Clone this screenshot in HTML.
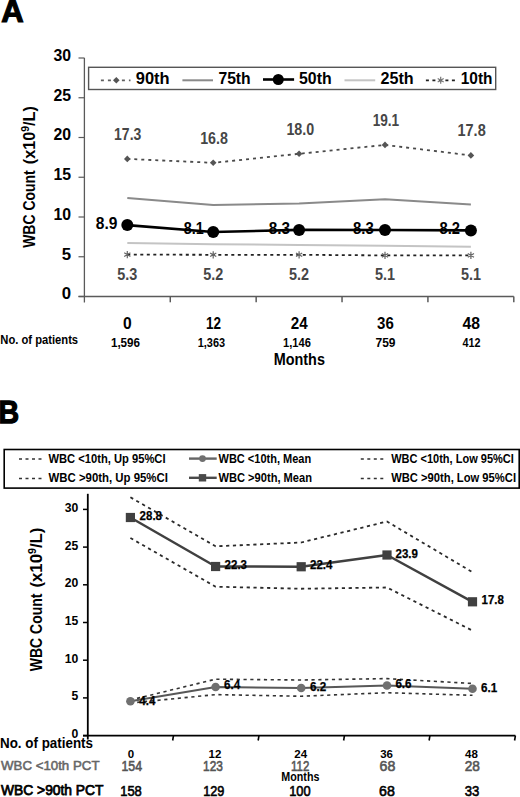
<!DOCTYPE html>
<html><head><meta charset="utf-8"><style>
html,body{margin:0;padding:0;background:#fff;}
svg{display:block;}
text{font-family:"Liberation Sans", sans-serif;}
</style></head><body>
<svg width="520" height="797" viewBox="0 0 520 797">
<rect width="520" height="797" fill="#fff"/>
<text x="1.3" y="21.9" font-size="32" font-weight="bold" fill="#000" textLength="22.4" lengthAdjust="spacingAndGlyphs" stroke="#000" stroke-width="1.2">A</text>
<line x1="84.4" y1="57.9" x2="84.4" y2="302.5" stroke="#5a5a5a" stroke-width="1.3"/>
<line x1="78.5" y1="296.5" x2="513.8" y2="296.5" stroke="#5a5a5a" stroke-width="1.5"/>
<line x1="78.5" y1="296.5" x2="84.4" y2="296.5" stroke="#5a5a5a" stroke-width="1.2"/>
<text x="71" y="299.4" font-size="16.8" font-weight="bold" fill="#000" text-anchor="end">0</text>
<line x1="78.5" y1="256.75" x2="84.4" y2="256.75" stroke="#5a5a5a" stroke-width="1.2"/>
<text x="71" y="259.65" font-size="16.8" font-weight="bold" fill="#000" text-anchor="end">5</text>
<line x1="78.5" y1="217.0" x2="84.4" y2="217.0" stroke="#5a5a5a" stroke-width="1.2"/>
<text x="71" y="219.9" font-size="16.8" font-weight="bold" fill="#000" text-anchor="end" textLength="17.6" lengthAdjust="spacingAndGlyphs">10</text>
<line x1="78.5" y1="177.25" x2="84.4" y2="177.25" stroke="#5a5a5a" stroke-width="1.2"/>
<text x="71" y="180.15" font-size="16.8" font-weight="bold" fill="#000" text-anchor="end" textLength="17.6" lengthAdjust="spacingAndGlyphs">15</text>
<line x1="78.5" y1="137.5" x2="84.4" y2="137.5" stroke="#5a5a5a" stroke-width="1.2"/>
<text x="71" y="140.4" font-size="16.8" font-weight="bold" fill="#000" text-anchor="end" textLength="17.6" lengthAdjust="spacingAndGlyphs">20</text>
<line x1="78.5" y1="97.75" x2="84.4" y2="97.75" stroke="#5a5a5a" stroke-width="1.2"/>
<text x="71" y="100.65" font-size="16.8" font-weight="bold" fill="#000" text-anchor="end" textLength="17.6" lengthAdjust="spacingAndGlyphs">25</text>
<line x1="78.5" y1="58.0" x2="84.4" y2="58.0" stroke="#5a5a5a" stroke-width="1.2"/>
<text x="71" y="60.9" font-size="16.8" font-weight="bold" fill="#000" text-anchor="end" textLength="17.6" lengthAdjust="spacingAndGlyphs">30</text>
<line x1="170.28" y1="296.5" x2="170.28" y2="302.3" stroke="#5a5a5a" stroke-width="1.5"/>
<line x1="256.15999999999997" y1="296.5" x2="256.15999999999997" y2="302.3" stroke="#5a5a5a" stroke-width="1.5"/>
<line x1="342.03999999999996" y1="296.5" x2="342.03999999999996" y2="302.3" stroke="#5a5a5a" stroke-width="1.5"/>
<line x1="427.91999999999996" y1="296.5" x2="427.91999999999996" y2="302.3" stroke="#5a5a5a" stroke-width="1.5"/>
<line x1="513.8" y1="296.5" x2="513.8" y2="302.3" stroke="#5a5a5a" stroke-width="1.5"/>
<polyline points="127.3,198 213.2,205.1 299.1,203.5 385,199.3 470.9,204.6" fill="none" stroke="#8a8a8a" stroke-width="2" stroke-linejoin="round"/>
<polyline points="127.3,243 213.2,244.2 299.1,245 385,245.8 470.9,246.7" fill="none" stroke="#c4c4c4" stroke-width="2" stroke-linejoin="round"/>
<polyline points="127.3,158.9 213.2,162.8 299.1,153.8 385,144.9 470.9,155.4" fill="none" stroke="#4a4a4a" stroke-width="1.8" stroke-linejoin="round" stroke-dasharray="3 4"/>
<polyline points="127.3,254.6 213.2,254.8 299.1,254.8 385,255.4 470.9,255.4" fill="none" stroke="#222" stroke-width="1.8" stroke-linejoin="round" stroke-dasharray="3 3.5"/>
<polyline points="127.3,225.1 213.2,232 299.1,229.9 385,230 470.9,230.4" fill="none" stroke="#000" stroke-width="2.6" stroke-linejoin="round"/>
<path d="M127.3,155.6 L130.6,158.9 L127.3,162.20000000000002 L124.0,158.9 Z" fill="#555"/>
<path d="M213.2,159.5 L216.5,162.8 L213.2,166.10000000000002 L209.89999999999998,162.8 Z" fill="#555"/>
<path d="M299.1,150.5 L302.40000000000003,153.8 L299.1,157.10000000000002 L295.8,153.8 Z" fill="#555"/>
<path d="M385,141.6 L388.3,144.9 L385,148.20000000000002 L381.7,144.9 Z" fill="#555"/>
<path d="M470.9,152.1 L474.2,155.4 L470.9,158.70000000000002 L467.59999999999997,155.4 Z" fill="#555"/>
<path d="M127.3,251.0 L127.3,258.2 M130.4,252.8 L124.2,256.4 M130.4,256.4 L124.2,252.8 " stroke="#666" stroke-width="1.2" fill="none"/>
<path d="M213.2,251.2 L213.2,258.4 M216.3,253.0 L210.1,256.6 M216.3,256.6 L210.1,253.0 " stroke="#666" stroke-width="1.2" fill="none"/>
<path d="M299.1,251.2 L299.1,258.4 M302.2,253.0 L296.0,256.6 M302.2,256.6 L296.0,253.0 " stroke="#666" stroke-width="1.2" fill="none"/>
<path d="M385.0,251.8 L385.0,259.0 M388.1,253.6 L381.9,257.2 M388.1,257.2 L381.9,253.6 " stroke="#666" stroke-width="1.2" fill="none"/>
<path d="M470.9,251.8 L470.9,259.0 M474.0,253.6 L467.8,257.2 M474.0,257.2 L467.8,253.6 " stroke="#666" stroke-width="1.2" fill="none"/>
<circle cx="127.3" cy="225.1" r="6" fill="#000"/>
<circle cx="213.2" cy="232" r="6" fill="#000"/>
<circle cx="299.1" cy="229.9" r="6" fill="#000"/>
<circle cx="385" cy="230" r="6" fill="#000"/>
<circle cx="470.9" cy="230.4" r="6" fill="#000"/>
<text x="127.7" y="140.2" font-size="16.5" font-weight="bold" fill="#464646" text-anchor="middle" textLength="27.2" lengthAdjust="spacingAndGlyphs">17.3</text>
<text x="214" y="144.2" font-size="16.5" font-weight="bold" fill="#464646" text-anchor="middle" textLength="27.7" lengthAdjust="spacingAndGlyphs">16.8</text>
<text x="300.3" y="134.6" font-size="16.5" font-weight="bold" fill="#464646" text-anchor="middle" textLength="27.8" lengthAdjust="spacingAndGlyphs">18.0</text>
<text x="385.9" y="126.2" font-size="16.5" font-weight="bold" fill="#464646" text-anchor="middle" textLength="26.5" lengthAdjust="spacingAndGlyphs">19.1</text>
<text x="471.6" y="135.6" font-size="16.5" font-weight="bold" fill="#464646" text-anchor="middle" textLength="28.2" lengthAdjust="spacingAndGlyphs">17.8</text>
<text x="127.3" y="280" font-size="16.5" font-weight="bold" fill="#464646" text-anchor="middle" textLength="20" lengthAdjust="spacingAndGlyphs">5.3</text>
<text x="213.2" y="280" font-size="16.5" font-weight="bold" fill="#464646" text-anchor="middle" textLength="20" lengthAdjust="spacingAndGlyphs">5.2</text>
<text x="299.1" y="280" font-size="16.5" font-weight="bold" fill="#464646" text-anchor="middle" textLength="20" lengthAdjust="spacingAndGlyphs">5.2</text>
<text x="385" y="280" font-size="16.5" font-weight="bold" fill="#464646" text-anchor="middle" textLength="20" lengthAdjust="spacingAndGlyphs">5.1</text>
<text x="470.9" y="280" font-size="16.5" font-weight="bold" fill="#464646" text-anchor="middle" textLength="20" lengthAdjust="spacingAndGlyphs">5.1</text>
<text x="95.8" y="228.6" font-size="16" font-weight="bold" fill="#000" textLength="21.6" lengthAdjust="spacingAndGlyphs">8.9</text>
<text x="183.8" y="234.3" font-size="16" font-weight="bold" fill="#000" textLength="20" lengthAdjust="spacingAndGlyphs">8.1</text>
<text x="268.8" y="233.7" font-size="16" font-weight="bold" fill="#000" textLength="21.2" lengthAdjust="spacingAndGlyphs">8.3</text>
<text x="353" y="233.7" font-size="16" font-weight="bold" fill="#000" textLength="20.7" lengthAdjust="spacingAndGlyphs">8.3</text>
<text x="439.5" y="233.7" font-size="16" font-weight="bold" fill="#000" textLength="20.5" lengthAdjust="spacingAndGlyphs">8.2</text>
<rect x="88.6" y="67.3" width="407.1" height="22.2" fill="none" stroke="#555" stroke-width="1.4"/>
<line x1="100.9" y1="80.3" x2="130.5" y2="80.3" stroke="#606060" stroke-width="1.8" stroke-dasharray="3 4"/>
<path d="M116.3,77.0 L119.6,80.3 L116.3,83.6 L113.0,80.3 Z" fill="#555"/>
<text x="135.8" y="84.2" font-size="16" font-weight="bold" fill="#000" textLength="33.8" lengthAdjust="spacingAndGlyphs">90th</text>
<line x1="182.4" y1="80.3" x2="213" y2="80.3" stroke="#8a8a8a" stroke-width="2"/>
<text x="218.4" y="84.2" font-size="16" font-weight="bold" fill="#000" textLength="32.3" lengthAdjust="spacingAndGlyphs">75th</text>
<line x1="263" y1="79.5" x2="294.1" y2="79.5" stroke="#000" stroke-width="2.6"/>
<circle cx="278.3" cy="79.5" r="5.5" fill="#000"/>
<text x="299" y="84.2" font-size="16" font-weight="bold" fill="#000" textLength="32.6" lengthAdjust="spacingAndGlyphs">50th</text>
<line x1="344.5" y1="80.3" x2="375.2" y2="80.3" stroke="#c4c4c4" stroke-width="2"/>
<text x="380.5" y="84.2" font-size="16" font-weight="bold" fill="#000" textLength="33.2" lengthAdjust="spacingAndGlyphs">25th</text>
<line x1="425.9" y1="80.3" x2="455.5" y2="80.3" stroke="#222" stroke-width="1.8" stroke-dasharray="3 3.5"/>
<path d="M440.7,76.8 L440.7,83.8 M443.7,78.5 L437.7,82.0 M443.7,82.0 L437.7,78.5 " stroke="#777" stroke-width="1.2" fill="none"/>
<text x="460.8" y="84.2" font-size="16" font-weight="bold" fill="#000" textLength="31.7" lengthAdjust="spacingAndGlyphs">10th</text>
<g transform="translate(35.4,247.8) rotate(-90)"><text x="0" y="0" font-size="17" font-weight="bold" textLength="77.5" lengthAdjust="spacingAndGlyphs">WBC Count</text><text x="83.6" y="0" font-size="17" font-weight="bold" textLength="58" lengthAdjust="spacingAndGlyphs">(x10<tspan font-size="11" dy="-6">9</tspan><tspan dy="6">/L)</tspan></text></g>
<text x="127.3" y="328.9" font-size="16.3" font-weight="bold" fill="#000" text-anchor="middle" textLength="8.7" lengthAdjust="spacingAndGlyphs">0</text>
<text x="213.4" y="328.9" font-size="16.3" font-weight="bold" fill="#000" text-anchor="middle" textLength="15" lengthAdjust="spacingAndGlyphs">12</text>
<text x="299.2" y="328.9" font-size="16.3" font-weight="bold" fill="#000" text-anchor="middle" textLength="16.9" lengthAdjust="spacingAndGlyphs">24</text>
<text x="385.4" y="328.9" font-size="16.3" font-weight="bold" fill="#000" text-anchor="middle" textLength="16.7" lengthAdjust="spacingAndGlyphs">36</text>
<text x="471.2" y="328.9" font-size="16.3" font-weight="bold" fill="#000" text-anchor="middle" textLength="17.5" lengthAdjust="spacingAndGlyphs">48</text>
<text x="0.3" y="344.4" font-size="12.5" font-weight="bold" fill="#000" textLength="77.8" lengthAdjust="spacingAndGlyphs">No. of patients</text>
<text x="125.5" y="346.5" font-size="12.5" font-weight="bold" fill="#000" text-anchor="middle" textLength="29.2" lengthAdjust="spacingAndGlyphs">1,596</text>
<text x="211.4" y="346.5" font-size="12.5" font-weight="bold" fill="#000" text-anchor="middle" textLength="27.4" lengthAdjust="spacingAndGlyphs">1,363</text>
<text x="297" y="346.5" font-size="12.5" font-weight="bold" fill="#000" text-anchor="middle" textLength="27.8" lengthAdjust="spacingAndGlyphs">1,146</text>
<text x="385.5" y="346.5" font-size="12.5" font-weight="bold" fill="#000" text-anchor="middle" textLength="20" lengthAdjust="spacingAndGlyphs">759</text>
<text x="471.5" y="346.5" font-size="12.5" font-weight="bold" fill="#000" text-anchor="middle" textLength="18" lengthAdjust="spacingAndGlyphs">412</text>
<text x="273.7" y="364.9" font-size="15.8" font-weight="bold" fill="#000" textLength="51.2" lengthAdjust="spacingAndGlyphs">Months</text>
<text x="-1.6" y="423.2" font-size="32" font-weight="bold" fill="#000" textLength="20.6" lengthAdjust="spacingAndGlyphs" stroke="#000" stroke-width="1.3">B</text>
<rect x="4.2" y="449.5" width="515" height="38.6" fill="none" stroke="#000" stroke-width="1.6"/>
<line x1="19" y1="459" x2="43" y2="459" stroke="#333" stroke-width="1.7" stroke-dasharray="3 3.5"/>
<line x1="360.8" y1="459" x2="386" y2="459" stroke="#333" stroke-width="1.7" stroke-dasharray="3 3.5"/>
<line x1="19" y1="478.5" x2="43" y2="478.5" stroke="#333" stroke-width="1.7" stroke-dasharray="3 3.5"/>
<line x1="360.8" y1="478.5" x2="386" y2="478.5" stroke="#333" stroke-width="1.7" stroke-dasharray="3 3.5"/>
<line x1="189" y1="458.6" x2="216.7" y2="458.6" stroke="#666" stroke-width="2.4"/>
<line x1="189" y1="477.8" x2="216.7" y2="477.8" stroke="#4a4a4a" stroke-width="2.4"/>
<circle cx="202.5" cy="458.6" r="3.4" fill="#707070"/>
<rect x="198.8" y="474.1" width="7.4" height="7.4" fill="#4a4a4a"/>
<text x="48.5" y="463.4" font-size="13" font-weight="bold" fill="#000" textLength="117" lengthAdjust="spacingAndGlyphs">WBC &lt;10th, Up 95%CI</text>
<text x="48.5" y="482.2" font-size="13" font-weight="bold" fill="#000" textLength="119.4" lengthAdjust="spacingAndGlyphs">WBC &gt;90th, Up 95%CI</text>
<text x="218.5" y="463.4" font-size="13" font-weight="bold" fill="#000" textLength="92.7" lengthAdjust="spacingAndGlyphs">WBC &lt;10th, Mean</text>
<text x="218.5" y="482.2" font-size="13" font-weight="bold" fill="#000" textLength="93.5" lengthAdjust="spacingAndGlyphs">WBC &gt;90th, Mean</text>
<text x="391.2" y="462.7" font-size="13" font-weight="bold" fill="#000" textLength="122.6" lengthAdjust="spacingAndGlyphs">WBC &lt;10th, Low 95%CI</text>
<text x="391.2" y="482" font-size="13" font-weight="bold" fill="#000" textLength="124.8" lengthAdjust="spacingAndGlyphs">WBC &gt;90th, Low 95%CI</text>
<line x1="87.8" y1="493.8" x2="87.8" y2="739.5" stroke="#000" stroke-width="1.8"/>
<line x1="83" y1="735.6" x2="515.4" y2="735.6" stroke="#000" stroke-width="1.6"/>
<line x1="83" y1="735.6" x2="87.8" y2="735.6" stroke="#000" stroke-width="1.5"/>
<text x="78.3" y="738.0" font-size="12.2" font-weight="bold" fill="#000" text-anchor="end">0</text>
<line x1="83" y1="697.9" x2="87.8" y2="697.9" stroke="#000" stroke-width="1.5"/>
<text x="78.3" y="700.3" font-size="12.2" font-weight="bold" fill="#000" text-anchor="end">5</text>
<line x1="83" y1="660.2" x2="87.8" y2="660.2" stroke="#000" stroke-width="1.5"/>
<text x="78.3" y="662.6" font-size="12.2" font-weight="bold" fill="#000" text-anchor="end">10</text>
<line x1="83" y1="622.5" x2="87.8" y2="622.5" stroke="#000" stroke-width="1.5"/>
<text x="78.3" y="624.9" font-size="12.2" font-weight="bold" fill="#000" text-anchor="end">15</text>
<line x1="83" y1="584.8" x2="87.8" y2="584.8" stroke="#000" stroke-width="1.5"/>
<text x="78.3" y="587.1999999999999" font-size="12.2" font-weight="bold" fill="#000" text-anchor="end">20</text>
<line x1="83" y1="547.1" x2="87.8" y2="547.1" stroke="#000" stroke-width="1.5"/>
<text x="78.3" y="549.5" font-size="12.2" font-weight="bold" fill="#000" text-anchor="end">25</text>
<line x1="83" y1="509.40000000000003" x2="87.8" y2="509.40000000000003" stroke="#000" stroke-width="1.5"/>
<text x="78.3" y="511.8" font-size="12.2" font-weight="bold" fill="#000" text-anchor="end">30</text>
<line x1="173.48000000000002" y1="735.6" x2="172.68" y2="740.5" stroke="#000" stroke-width="1.6"/>
<line x1="258.96000000000004" y1="735.6" x2="258.16" y2="740.5" stroke="#000" stroke-width="1.6"/>
<line x1="344.44" y1="735.6" x2="343.64" y2="740.5" stroke="#000" stroke-width="1.6"/>
<line x1="429.92" y1="735.6" x2="429.12" y2="740.5" stroke="#000" stroke-width="1.6"/>
<line x1="515.4000000000001" y1="735.6" x2="514.6000000000001" y2="740.5" stroke="#000" stroke-width="1.6"/>
<polyline points="130.4,497.3 215.6,546.3 301.2,542.5 387,521.5 472.5,572.2" fill="none" stroke="#2a2a2a" stroke-width="1.8" stroke-linejoin="round" stroke-dasharray="3.2 3.6"/>
<polyline points="130.4,538 215.6,586.7 301.2,588.75 387,587.5 472.5,630.6" fill="none" stroke="#2a2a2a" stroke-width="1.8" stroke-linejoin="round" stroke-dasharray="3.2 3.6"/>
<polyline points="130.4,700 215.6,679.2 301.2,680 387,678.6 472.5,683.5" fill="none" stroke="#333" stroke-width="1.6" stroke-linejoin="round" stroke-dasharray="3.2 3.6"/>
<polyline points="130.4,703 215.6,694.6 301.2,696.25 387,692.7 472.5,695.3" fill="none" stroke="#333" stroke-width="1.6" stroke-linejoin="round" stroke-dasharray="3.2 3.6"/>
<polyline points="130.4,517.5 215.6,566.5 301.2,566.75 387,555 472.5,601.8" fill="none" stroke="#404040" stroke-width="2.5" stroke-linejoin="round"/>
<polyline points="130.4,701.3 215.6,687 301.2,688 387,685.5 472.5,688.8" fill="none" stroke="#585858" stroke-width="2" stroke-linejoin="round"/>
<rect x="125.80000000000001" y="512.9" width="9.2" height="9.2" fill="#404040"/>
<rect x="211.0" y="561.9" width="9.2" height="9.2" fill="#404040"/>
<rect x="296.59999999999997" y="562.15" width="9.2" height="9.2" fill="#404040"/>
<rect x="382.4" y="550.4" width="9.2" height="9.2" fill="#404040"/>
<rect x="467.9" y="597.1999999999999" width="9.2" height="9.2" fill="#404040"/>
<circle cx="130.4" cy="701.3" r="4.3" fill="#707070"/>
<circle cx="215.6" cy="687" r="4.3" fill="#707070"/>
<circle cx="301.2" cy="688" r="4.3" fill="#707070"/>
<circle cx="387" cy="685.5" r="4.3" fill="#707070"/>
<circle cx="472.5" cy="688.8" r="4.3" fill="#707070"/>
<text x="139.6" y="519.6" font-size="12.5" font-weight="bold" fill="#000" textLength="22.4" lengthAdjust="spacingAndGlyphs" stroke="#000" stroke-width="0.25">28.8</text>
<text x="224.6" y="569.2" font-size="12.5" font-weight="bold" fill="#000" textLength="22.4" lengthAdjust="spacingAndGlyphs" stroke="#000" stroke-width="0.25">22.3</text>
<text x="310" y="569" font-size="12.5" font-weight="bold" fill="#000" textLength="22.4" lengthAdjust="spacingAndGlyphs" stroke="#000" stroke-width="0.25">22.4</text>
<text x="395.5" y="557.9" font-size="12.5" font-weight="bold" fill="#000" textLength="22.4" lengthAdjust="spacingAndGlyphs" stroke="#000" stroke-width="0.25">23.9</text>
<text x="481.5" y="603.8" font-size="12.5" font-weight="bold" fill="#000" textLength="22.4" lengthAdjust="spacingAndGlyphs" stroke="#000" stroke-width="0.25">17.8</text>
<text x="139.2" y="704.5" font-size="12.5" font-weight="bold" fill="#000" textLength="16.2" lengthAdjust="spacingAndGlyphs" stroke="#000" stroke-width="0.25">4.4</text>
<text x="224.1" y="689" font-size="12.5" font-weight="bold" fill="#000" textLength="16.2" lengthAdjust="spacingAndGlyphs" stroke="#000" stroke-width="0.25">6.4</text>
<text x="310" y="690.6" font-size="12.5" font-weight="bold" fill="#000" textLength="16.2" lengthAdjust="spacingAndGlyphs" stroke="#000" stroke-width="0.25">6.2</text>
<text x="395.4" y="688.4" font-size="12.5" font-weight="bold" fill="#000" textLength="16.2" lengthAdjust="spacingAndGlyphs" stroke="#000" stroke-width="0.25">6.6</text>
<text x="481" y="691.5" font-size="12.5" font-weight="bold" fill="#000" textLength="16.2" lengthAdjust="spacingAndGlyphs" stroke="#000" stroke-width="0.25">6.1</text>
<g transform="translate(42,671.2) rotate(-90)"><text x="0" y="0" font-size="16.5" font-weight="bold" textLength="77.6" lengthAdjust="spacingAndGlyphs">WBC Count</text><text x="83.6" y="0" font-size="16.5" font-weight="bold" textLength="60" lengthAdjust="spacingAndGlyphs">(x10<tspan font-size="10.5" dy="-6">9</tspan><tspan dy="6">/L)</tspan></text></g>
<text x="0" y="748" font-size="13.8" font-weight="bold" fill="#000" textLength="93" lengthAdjust="spacingAndGlyphs">No. of patients</text>
<text x="131" y="758.4" font-size="11.5" font-weight="bold" fill="#000" text-anchor="middle">0</text>
<text x="215" y="758.4" font-size="11.5" font-weight="bold" fill="#000" text-anchor="middle">12</text>
<text x="300.75" y="758.4" font-size="11.5" font-weight="bold" fill="#000" text-anchor="middle">24</text>
<text x="386.6" y="758.4" font-size="11.5" font-weight="bold" fill="#000" text-anchor="middle">36</text>
<text x="471.5" y="758.4" font-size="11.5" font-weight="bold" fill="#000" text-anchor="middle">48</text>
<text x="1" y="770.4" font-size="13.4" font-weight="normal" fill="#666" textLength="98.5" lengthAdjust="spacingAndGlyphs" stroke="#666" stroke-width="0.55">WBC &lt;10th PCT</text>
<text x="131.75" y="771.2" font-size="14.5" font-weight="normal" fill="#555" text-anchor="middle" textLength="20.6" lengthAdjust="spacingAndGlyphs" stroke="#555" stroke-width="0.6">154</text>
<text x="213" y="771.2" font-size="14.5" font-weight="normal" fill="#555" text-anchor="middle" textLength="19.8" lengthAdjust="spacingAndGlyphs" stroke="#555" stroke-width="0.6">123</text>
<text x="300.15" y="771.2" font-size="14.5" font-weight="normal" fill="#555" text-anchor="middle" textLength="18.3" lengthAdjust="spacingAndGlyphs" stroke="#555" stroke-width="0.6">112</text>
<text x="387.4" y="771.2" font-size="14.5" font-weight="normal" fill="#555" text-anchor="middle" textLength="15.8" lengthAdjust="spacingAndGlyphs" stroke="#555" stroke-width="0.6">68</text>
<text x="472.3" y="771.2" font-size="14.5" font-weight="normal" fill="#555" text-anchor="middle" textLength="15.2" lengthAdjust="spacingAndGlyphs" stroke="#555" stroke-width="0.6">28</text>
<text x="281.3" y="780.5" font-size="12.5" font-weight="bold" fill="#000" textLength="38.1" lengthAdjust="spacingAndGlyphs">Months</text>
<text x="1" y="794.7" font-size="13.9" font-weight="normal" fill="#000" textLength="102.5" lengthAdjust="spacingAndGlyphs" stroke="#000" stroke-width="0.75">WBC &gt;90th PCT</text>
<text x="131" y="795.5" font-size="14.5" font-weight="normal" fill="#000" text-anchor="middle" textLength="21.6" lengthAdjust="spacingAndGlyphs" stroke="#000" stroke-width="0.6">158</text>
<text x="213.8" y="795.5" font-size="14.5" font-weight="normal" fill="#000" text-anchor="middle" textLength="21.2" lengthAdjust="spacingAndGlyphs" stroke="#000" stroke-width="0.6">129</text>
<text x="299.9" y="795.5" font-size="14.5" font-weight="normal" fill="#000" text-anchor="middle" textLength="21.4" lengthAdjust="spacingAndGlyphs" stroke="#000" stroke-width="0.6">100</text>
<text x="387" y="795.5" font-size="14.5" font-weight="normal" fill="#000" text-anchor="middle" textLength="15.8" lengthAdjust="spacingAndGlyphs" stroke="#000" stroke-width="0.6">68</text>
<text x="472" y="795.5" font-size="14.5" font-weight="normal" fill="#000" text-anchor="middle" textLength="14.6" lengthAdjust="spacingAndGlyphs" stroke="#000" stroke-width="0.6">33</text>
</svg></body></html>
